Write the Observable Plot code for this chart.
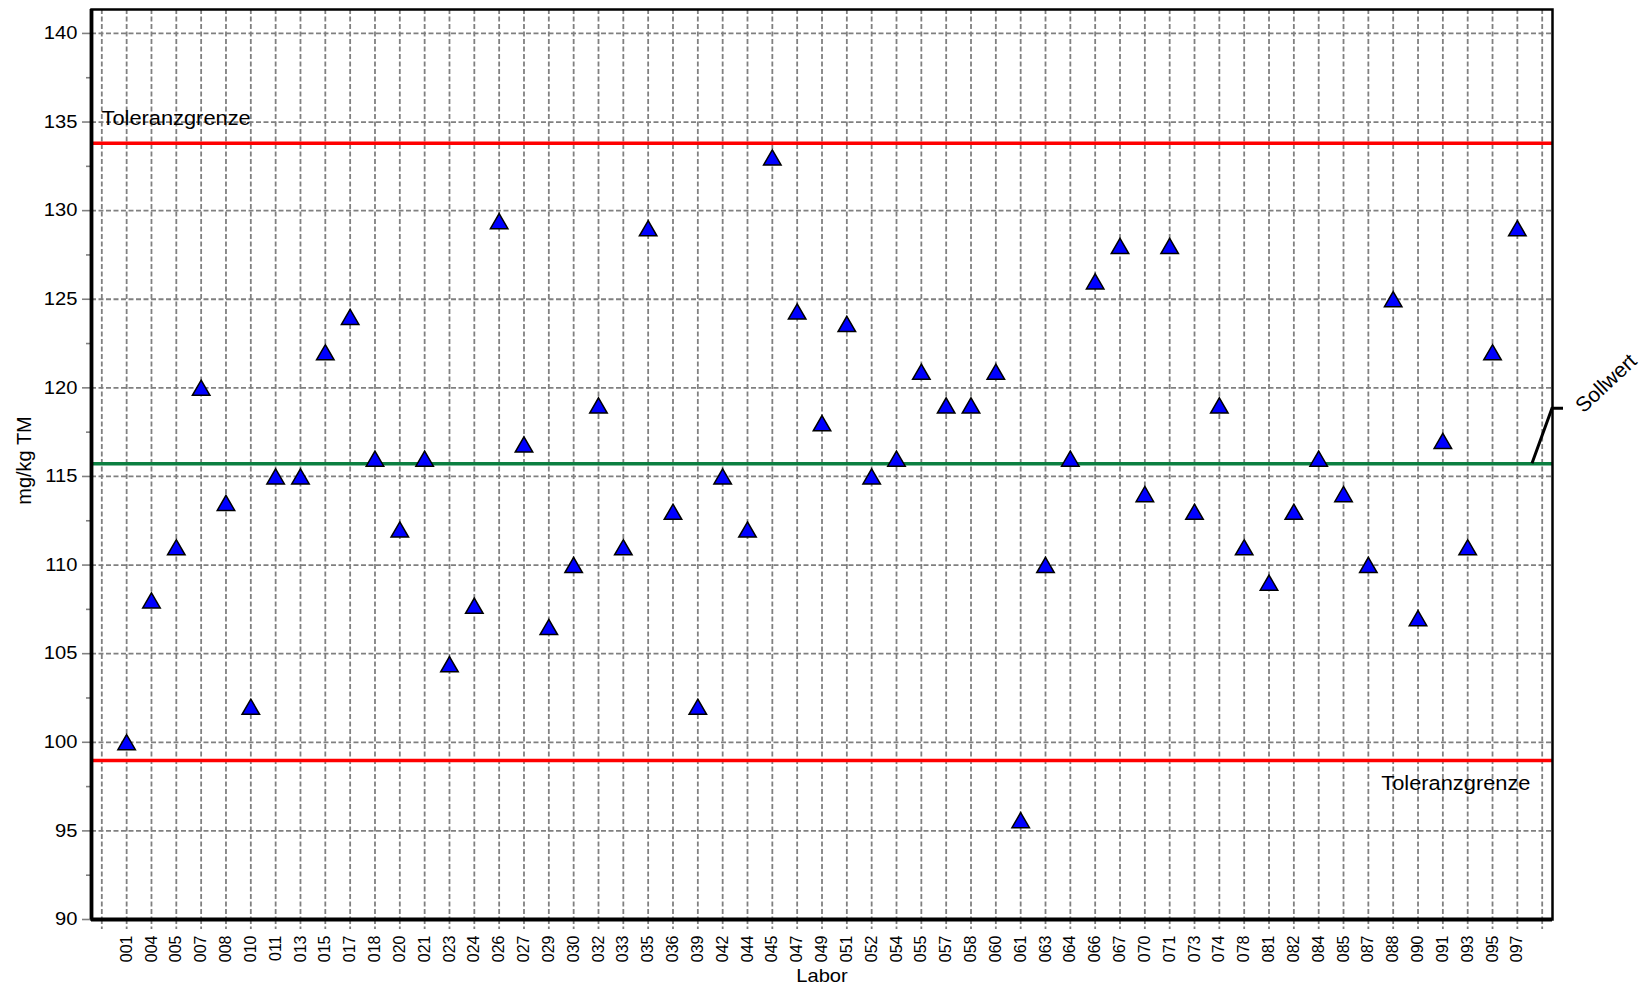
<!DOCTYPE html>
<html>
<head>
<meta charset="utf-8">
<script src="https://cdn.jsdelivr.net/npm/d3@7"></script>
<script src="https://cdn.jsdelivr.net/npm/@observablehq/plot@0.6"></script>
<style>
html, body { margin: 0; padding: 0; background: #fff; }
#chart svg { display: block; }
</style>
</head>
<body>
<div id="chart"></div>
<script>
// ---- data ----
const labs = ["001","004","005","007","008","010","011","013","015","017","018","020","021","023","024","026","027","029","030","032","033","035","036","039","042","044","045","047","049","051","052","054","055","057","058","060","061","063","064","066","067","070","071","073","074","078","081","082","084","085","087","088","090","091","093","095","097"];
const values = [100,108,111,120,113.5,102,115,115,122,124,116,112,116,104.4,107.7,129.4,116.8,106.5,110,119,111,129,113,102,115,112,133,124.3,118,123.6,115,116,120.9,119,119,120.9,95.6,110,116,126,128,114,128,113,119,111,109,113,116,114,110,125,107,117,111,122,129];
const sollwert = 115.72;
const toleranzOben = 133.8;
const toleranzUnten = 98.97;
const yTicks = [90,95,100,105,110,115,120,125,130,135,140];
const yMinorTicks = [92.5,97.5,102.5,107.5,112.5,117.5,122.5,127.5,132.5,137.5];
const yLabel = "mg/kg TM";
const xLabel = "Labor";
const tolLabel = "Toleranzgrenze";
const sollLabel = "Sollwert";

// ---- build ----
const data = labs.map((l, i) => ({pos: i + 1, labor: l, value: values[i]}));
const xTicks = d3.range(0, labs.length + 2);
const xPad = 0.415;
const font = "'Liberation Sans', Arial, Helvetica, sans-serif";
const grid = {stroke: "#808080", strokeOpacity: 1, strokeWidth: 1.8, strokeDasharray: "5,2.5"};

const W = 1642, H = 986, mL = 91, mR = 90, mT = 9, mB = 67;

const chart = Plot.plot({
  width: W, height: H,
  marginLeft: mL, marginRight: mR, marginTop: mT, marginBottom: mB,
  style: {fontFamily: font, background: "white", color: "black", overflow: "visible"},
  x: {type: "linear", domain: [-xPad, labs.length + 1 + xPad]},
  y: {domain: [90, 141.35]},
  marks: [
    Plot.gridY(yTicks.filter(t => t > 90), grid),
    Plot.gridX(xTicks, grid),
    Plot.axisY(yMinorTicks, {tickSize: 5, tickFormat: () => "", stroke: "#808080", strokeWidth: 1.6, label: null}),
    Plot.axisY(yTicks, {tickSize: 9, tickPadding: 5, fontSize: 18, stroke: "#808080", strokeWidth: 1.6, fill: "black", label: null, tickFormat: d => String(d)}),
    Plot.axisX(xTicks, {tickSize: 10, tickPadding: 6, tickRotate: -90, fontSize: 16, stroke: "#808080", strokeWidth: 1.8, strokeDasharray: "5,2.5", fill: "black", label: null, tickFormat: i => labs[i - 1] ?? ""}),
    Plot.ruleY([toleranzOben, toleranzUnten], {stroke: "#ff0000", strokeWidth: 3.5}),
    Plot.ruleY([sollwert], {stroke: "#0b7f40", strokeWidth: 3.5}),
    Plot.frame({stroke: "black", strokeWidth: 2.5}),
    Plot.ruleY([90], {stroke: "black", strokeWidth: 3.8}),
    Plot.ruleX([-xPad], {stroke: "black", strokeWidth: 3.8}),
    Plot.dot(data, {x: "pos", y: "value", symbol: "triangle", r: 6.5, fill: "#0000ff", stroke: "black", strokeWidth: 1.5, dy: 2.4}),
    Plot.text([toleranzOben], {y: d => d, frameAnchor: "left", dx: 10, dy: -18.7, text: () => tolLabel, textAnchor: "start", lineAnchor: "bottom", fontSize: 19.5, fill: "black"}),
    Plot.text([toleranzUnten], {y: d => d, frameAnchor: "right", dx: -22, dy: 29.3, text: () => tolLabel, textAnchor: "end", lineAnchor: "bottom", fontSize: 19.5, fill: "black"}),
    Plot.text([sollwert], {y: d => d, frameAnchor: "right", dx: 31, dy: -50, rotate: -43, text: () => sollLabel, textAnchor: "start", lineAnchor: "bottom", fontSize: 21, fill: "black"}),
    Plot.text([yLabel], {frameAnchor: "left", dx: -67, dy: -4, rotate: -90, text: d => d, fontSize: 20, textAnchor: "middle", lineAnchor: "middle", fill: "black"}),
    Plot.text([xLabel], {frameAnchor: "bottom", dy: 57, text: d => d, fontSize: 18, textAnchor: "middle", lineAnchor: "middle", fill: "black"})
  ]
});

// widen horizontal (non-rotated) texts slightly, like the reference's stretched lettering
d3.select(chart).selectAll("text").each(function () {
  const t = this.getAttribute("transform") || "";
  if (t.includes("rotate")) return;
  const x = +this.getAttribute("x") || 0;
  this.setAttribute("transform", `${t} translate(${x},0) scale(1.12,1) translate(${-x},0)`);
});

// leader line for "Sollwert", anchored to the y scale
const y0 = chart.scale("y").apply(sollwert);
const xr = W - mR;
d3.select(chart).append("path")
  .attr("d", `M${xr - 20},${y0}L${xr},${y0 - 55}H${xr + 11}`)
  .attr("fill", "none")
  .attr("stroke", "black")
  .attr("stroke-width", 3);

document.getElementById("chart").appendChild(chart);
</script>
</body>
</html>
